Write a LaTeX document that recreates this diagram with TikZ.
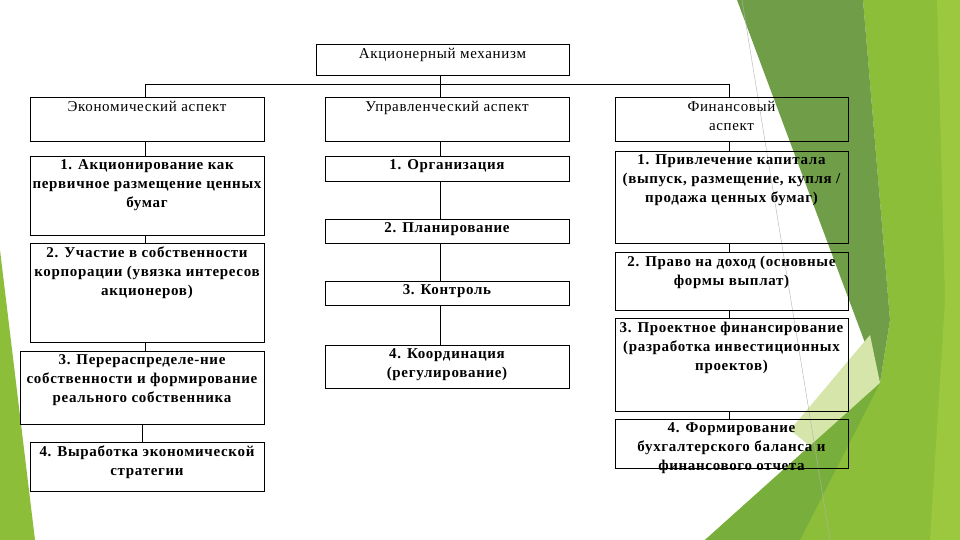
\documentclass[tikz,border=0pt]{standalone}
\usepackage{fontspec}
\setmainfont[LetterSpace=4.5]{Liberation Serif}
\begin{document}
\begin{tikzpicture}[x=1pt,y=-1pt,
  box/.style={draw=black, line width=0.8pt, inner sep=0pt},
  txt/.style={anchor=north, align=center, inner sep=1pt, yshift=-3pt, font=\fontsize{15}{19}\selectfont},
  btxt/.style={txt, font=\fontsize{15}{19}\selectfont\bfseries},
  ln/.style={draw=black, line width=0.8pt}]
\useasboundingbox (0,0) rectangle (960,540);
% decorations
\fill[white] (0,0) rectangle (960,540);
\fill[fill={rgb,255:red,141;green,190;blue,58}] (0,250) -- (0,540) -- (35,540) -- cycle;
\fill[fill={rgb,255:red,141;green,190;blue,58}] (863,0) -- (960,0) -- (960,540) -- (705,540) -- (880,383) -- (890,320) -- cycle;
\fill[fill={rgb,255:red,155;green,200;blue,62}] (937,0) -- (960,0) -- (960,540) -- (930,540) -- (945,300) -- cycle;
\fill[fill={rgb,255:red,112;green,158;blue,72}] (737,0) -- (863,0) -- (890,320) -- (880,383) -- cycle;
\fill[fill={rgb,255:red,214;green,230;blue,170}] (790,430) -- (870,335) -- (880,383) -- (815,450) -- cycle;
\fill[fill={rgb,255:red,120;green,175;blue,60}] (705,540) -- (880,383) -- (800,540) -- cycle;
\draw[gray!60, line width=0.4pt] (742,0) -- (830,540);
% boxes
\node[box, minimum width=253, minimum height=31] (top) at (442.5,59.5) {};
\node[txt] at (top.north) {Акционерный механизм};
\node[box, minimum width=234, minimum height=44] (E) at (147,119) {};
\node[txt] at (E.north) {Экономический аспект};
\node[box, minimum width=244, minimum height=44] (U) at (447,119) {};
\node[txt] at (U.north) {Управленческий аспект};
\node[box, minimum width=233, minimum height=44] (F) at (731.5,119) {};
\node[txt] at (F.north) {Финансовый\\аспект};
% left
\node[box, minimum width=234, minimum height=79] (L1) at (147,195.5) {};
\node[btxt] at (L1.north) {1. Акционирование как\\первичное размещение ценных\\бумаг};
\node[box, minimum width=234, minimum height=99] (L2) at (147,292.5) {};
\node[btxt] at (L2.north) {2. Участие в собственности\\корпорации (увязка интересов\\акционеров)};
\node[box, minimum width=244, minimum height=73] (L3) at (142,387.5) {};
\node[btxt] at (L3.north) {3. Перераспределе-ние\\собственности и формирование\\реального собственника};
\node[box, minimum width=234, minimum height=49] (L4) at (147,466.5) {};
\node[btxt] at (L4.north) {4. Выработка экономической\\стратегии};
% middle
\node[box, minimum width=244, minimum height=25] (M1) at (447,168.5) {};
\node[btxt] at (M1.north) {1. Организация};
\node[box, minimum width=244, minimum height=24] (M2) at (447,231) {};
\node[btxt] at (M2.north) {2. Планирование};
\node[box, minimum width=244, minimum height=24] (M3) at (447,293) {};
\node[btxt] at (M3.north) {3. Контроль};
\node[box, minimum width=244, minimum height=43] (M4) at (447,366.5) {};
\node[btxt] at (M4.north) {4. Координация\\(регулирование)};
% right
\node[box, minimum width=233, minimum height=92] (R1) at (731.5,197) {};
\node[btxt] at (R1.north) {1. Привлечение капитала\\(выпуск, размещение, купля /\\продажа ценных бумаг)};
\node[box, minimum width=233, minimum height=58] (R2) at (731.5,281) {};
\node[btxt] at (R2.north) {2. Право на доход (основные\\формы выплат)};
\node[box, minimum width=233, minimum height=93] (R3) at (731.5,364.5) {};
\node[btxt] at (R3.north) {3. Проектное финансирование\\(разработка инвестиционных\\проектов)};
\node[box, minimum width=233, minimum height=49] (R4) at (731.5,443.5) {};
\node[btxt] at (R4.north) {4. Формирование\\бухгалтерского баланса и\\финансового отчета};
% connectors
\coordinate (bus) at (440,84);
\draw[ln] (top.south -| bus) -- (bus);
\draw[ln] (145,84) -- (729,84);
\draw[ln] (145,84) -- (145,97);
\draw[ln] (440,84) -- (440,97);
\draw[ln] (729,84) -- (729,97);
\draw[ln] (E.south -| 145,0) -- (L1.north -| 145,0);
\draw[ln] (L1.south -| 145,0) -- (L2.north -| 145,0);
\draw[ln] (L2.south -| 145,0) -- (L3.north -| 145,0);
\draw[ln] (L3.south -| 142,0) -- (L4.north -| 142,0);
\draw[ln] (U.south -| 440,0) -- (M1.north -| 440,0);
\draw[ln] (M1.south -| 440,0) -- (M2.north -| 440,0);
\draw[ln] (M2.south -| 440,0) -- (M3.north -| 440,0);
\draw[ln] (M3.south -| 440,0) -- (M4.north -| 440,0);
\draw[ln] (F.south -| 729,0) -- (R1.north -| 729,0);
\draw[ln] (R1.south -| 729,0) -- (R2.north -| 729,0);
\draw[ln] (R2.south -| 729,0) -- (R3.north -| 729,0);
\draw[ln] (R3.south -| 729,0) -- (R4.north -| 729,0);
\end{tikzpicture}
\end{document}
